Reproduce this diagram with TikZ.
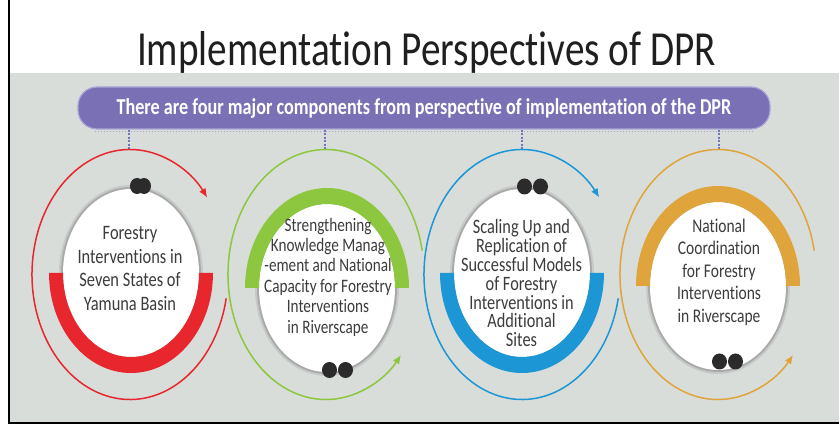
\documentclass[tikz,border=0pt]{standalone}
\usepackage{fontspec}
\setmainfont{Carlito}[FakeStretch=0.8, Ligatures=NoCommon]
\usetikzlibrary{arrows.meta}
\definecolor{panel}{RGB}{216,221,218}
\definecolor{bannerc}{RGB}{122,112,181}
\definecolor{bannerh}{RGB}{170,164,214}
\definecolor{conn}{RGB}{110,116,192}
\definecolor{cred}{RGB}{231,38,45}
\definecolor{cgreen}{RGB}{141,198,63}
\definecolor{cblue}{RGB}{28,150,212}
\definecolor{cgold}{RGB}{224,164,60}
\definecolor{dotc}{RGB}{43,43,43}
\definecolor{txt}{RGB}{60,60,60}
\tikzset{
  ring/.style={line width=1.5pt, -{Latex[length=9pt,width=7.5pt]}},
  connector/.style={conn, line width=1.3pt, dash pattern=on 2pt off 1.5pt},
  lbl/.style={align=center, text=txt, inner sep=0pt},
  bannerbox/.style={draw=bannerh, line width=1.2pt, fill=bannerc, rounded corners=19pt,
    minimum width=692pt, minimum height=42pt, inner sep=0pt, text=white,
    font=\bfseries\fontsize{22.7}{26}\selectfont},
  dotshape/.style={fill=dotc},
}
\newcommand{\whiteoval}[3]{%
  \fill[black!35, opacity=.35] (#1,#2) ellipse [x radius=72, y radius=88];
  \fill[black!45, opacity=.5] (#1,#2) ellipse [x radius=70, y radius=86];
  \fill[white] (#1,#2) ellipse [x radius=68, y radius=84];
}
\begin{document}
\begin{tikzpicture}[x=1pt,y=-1pt]
\useasboundingbox (0,0) rectangle (839,430);
\fill[white] (0,0) rectangle (839,430);
\fill[panel] (9,73) rectangle (839,422);
\draw[black, line width=2.2pt] (9,0) -- (9,423) -- (839,423);

\node[font=\fontsize{49}{55}\selectfont, text=black!88, anchor=base] (title) at (426.5,66) {Implementation Perspectives of DPR};

\node[bannerbox] (banner) at (424,108) {There are four major components from perspective of implementation of the DPR};
\draw[bannerh, dotted, line width=1pt] ([xshift=18pt,yshift=-1.5pt]banner.south west) -- ([xshift=-18pt,yshift=-1.5pt]banner.south east);

% arc tops
\coordinate (top1) at (129,149.5);
\coordinate (top2) at (325,149.5);
\coordinate (top3) at (522,149.5);
\coordinate (top4) at (719,149.5);
\foreach \i in {1,...,4} { \draw[connector] (banner.south -| top\i) -- (top\i); }

% outer arcs
\draw[ring, cred]   (130,274.5) ++(11:98 and 125) arc[start angle=11, end angle=322, x radius=98, y radius=125];
\draw[ring, cgreen] (326,274.5) ++(-11:98 and 125) arc[start angle=-11, end angle=-320, x radius=98, y radius=125];
\draw[ring, cblue]  (522,274.5) ++(11:98 and 125) arc[start angle=11, end angle=322, x radius=98, y radius=125];
\draw[ring, cgold]  (718,274.5) ++(-11:98 and 125) arc[start angle=-11, end angle=-320, x radius=98, y radius=125];

% group 1
\whiteoval{131}{273}{}
\fill[cred] (213,273) arc[start angle=0,end angle=180,x radius=82,y radius=100] -- ++(14,0) arc[start angle=180,end angle=0,x radius=68,y radius=84] -- cycle;
\fill[dotshape] (137,186) ellipse [x radius=7, y radius=8];
\fill[dotshape] (144,186) ellipse [x radius=7, y radius=8];
\node[lbl, font=\fontsize{20.5}{23.5}\selectfont] (t1) at (130,268.5) {Forestry\\Interventions in\\Seven States of\\Yamuna Basin};

% group 2
\whiteoval{327}{288}{}
\fill[cgreen] (409,288) arc[start angle=0,end angle=-180,x radius=82,y radius=100] -- ++(14,0) arc[start angle=-180,end angle=0,x radius=68,y radius=84] -- cycle;
\fill[dotshape] (329.5,370) ellipse [x radius=7.5, y radius=8];
\fill[dotshape] (345.5,370) ellipse [x radius=7.5, y radius=8];
\node[lbl, font=\fontsize{19}{20.4}\selectfont] (t2) at (328,277) {Strengthening\\Knowledge Manag\\-ement and National\\Capacity for Forestry\\Interventions\\in Riverscape};

% group 3
\whiteoval{522}{273}{}
\fill[cblue] (604,273) arc[start angle=0,end angle=180,x radius=82,y radius=100] -- ++(14,0) arc[start angle=180,end angle=0,x radius=68,y radius=84] -- cycle;
\fill[dotshape] (524.5,186.5) ellipse [x radius=7.5, y radius=8];
\fill[dotshape] (540.5,186.5) ellipse [x radius=7.5, y radius=8];
\node[lbl, font=\fontsize{20.4}{18.8}\selectfont] (t3) at (521.5,283.2) {Scaling Up and\\Replication of\\Successful Models\\of Forestry\\Interventions in\\Additional\\Sites};

% group 4
\whiteoval{718}{286}{}
\fill[cgold] (800,286) arc[start angle=0,end angle=-180,x radius=82,y radius=100] -- ++(14,0) arc[start angle=-180,end angle=0,x radius=68,y radius=84] -- cycle;
\fill[dotshape] (719.5,361.5) ellipse [x radius=7.5, y radius=8];
\fill[dotshape] (735.5,361.5) ellipse [x radius=7.5, y radius=8];
\node[lbl, font=\fontsize{19.4}{22.5}\selectfont] (t4) at (719,272) {National\\Coordination\\for Forestry\\Interventions\\in Riverscape};
\end{tikzpicture}
\end{document}
